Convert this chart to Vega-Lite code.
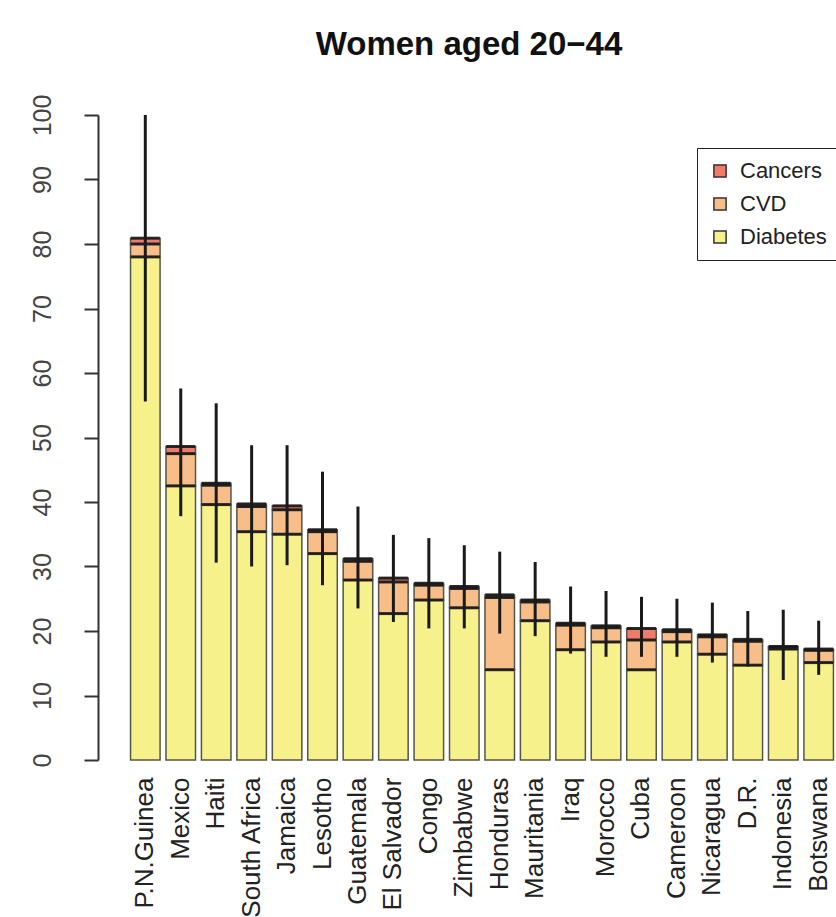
{
  "$schema": "https://vega.github.io/schema/vega-lite/v6.json",
  "autosize": {"type": "none"},
  "padding": {"left": 127, "top": 115, "right": 0, "bottom": 157},
  "width": 710,
  "height": 645,
  "background": "white",
  "config": {"view": {"stroke": null}, "font": "Liberation Sans"},
  "title": {"text": "Women aged 20−44", "fontSize": 33, "fontWeight": "bold", "font": "Liberation Sans", "color": "#111111", "offset": 32, "anchor": "middle", "dx": -13},
  "datasets": {
    "seg": [
      {"country": "P.N.Guinea", "cause": "Diabetes", "rank": 1, "value": 78.0},
      {"country": "P.N.Guinea", "cause": "CVD", "rank": 2, "value": 2.0},
      {"country": "P.N.Guinea", "cause": "Cancers", "rank": 3, "value": 0.9},
      {"country": "Mexico", "cause": "Diabetes", "rank": 1, "value": 42.5},
      {"country": "Mexico", "cause": "CVD", "rank": 2, "value": 5.0},
      {"country": "Mexico", "cause": "Cancers", "rank": 3, "value": 1.1},
      {"country": "Haiti", "cause": "Diabetes", "rank": 1, "value": 39.6},
      {"country": "Haiti", "cause": "CVD", "rank": 2, "value": 3.0},
      {"country": "Haiti", "cause": "Cancers", "rank": 3, "value": 0.3},
      {"country": "South Africa", "cause": "Diabetes", "rank": 1, "value": 35.4},
      {"country": "South Africa", "cause": "CVD", "rank": 2, "value": 3.9},
      {"country": "South Africa", "cause": "Cancers", "rank": 3, "value": 0.4},
      {"country": "Jamaica", "cause": "Diabetes", "rank": 1, "value": 35.0},
      {"country": "Jamaica", "cause": "CVD", "rank": 2, "value": 3.8},
      {"country": "Jamaica", "cause": "Cancers", "rank": 3, "value": 0.6},
      {"country": "Lesotho", "cause": "Diabetes", "rank": 1, "value": 32.0},
      {"country": "Lesotho", "cause": "CVD", "rank": 2, "value": 3.4},
      {"country": "Lesotho", "cause": "Cancers", "rank": 3, "value": 0.3},
      {"country": "Guatemala", "cause": "Diabetes", "rank": 1, "value": 27.9},
      {"country": "Guatemala", "cause": "CVD", "rank": 2, "value": 2.9},
      {"country": "Guatemala", "cause": "Cancers", "rank": 3, "value": 0.4},
      {"country": "El Salvador", "cause": "Diabetes", "rank": 1, "value": 22.7},
      {"country": "El Salvador", "cause": "CVD", "rank": 2, "value": 4.9},
      {"country": "El Salvador", "cause": "Cancers", "rank": 3, "value": 0.6},
      {"country": "Congo", "cause": "Diabetes", "rank": 1, "value": 24.8},
      {"country": "Congo", "cause": "CVD", "rank": 2, "value": 2.3},
      {"country": "Congo", "cause": "Cancers", "rank": 3, "value": 0.3},
      {"country": "Zimbabwe", "cause": "Diabetes", "rank": 1, "value": 23.6},
      {"country": "Zimbabwe", "cause": "CVD", "rank": 2, "value": 3.0},
      {"country": "Zimbabwe", "cause": "Cancers", "rank": 3, "value": 0.3},
      {"country": "Honduras", "cause": "Diabetes", "rank": 1, "value": 14.0},
      {"country": "Honduras", "cause": "CVD", "rank": 2, "value": 11.2},
      {"country": "Honduras", "cause": "Cancers", "rank": 3, "value": 0.4},
      {"country": "Mauritania", "cause": "Diabetes", "rank": 1, "value": 21.6},
      {"country": "Mauritania", "cause": "CVD", "rank": 2, "value": 2.9},
      {"country": "Mauritania", "cause": "Cancers", "rank": 3, "value": 0.3},
      {"country": "Iraq", "cause": "Diabetes", "rank": 1, "value": 17.1},
      {"country": "Iraq", "cause": "CVD", "rank": 2, "value": 3.8},
      {"country": "Iraq", "cause": "Cancers", "rank": 3, "value": 0.3},
      {"country": "Morocco", "cause": "Diabetes", "rank": 1, "value": 18.3},
      {"country": "Morocco", "cause": "CVD", "rank": 2, "value": 2.2},
      {"country": "Morocco", "cause": "Cancers", "rank": 3, "value": 0.3},
      {"country": "Cuba", "cause": "Diabetes", "rank": 1, "value": 14.0},
      {"country": "Cuba", "cause": "CVD", "rank": 2, "value": 4.6},
      {"country": "Cuba", "cause": "Cancers", "rank": 3, "value": 1.8},
      {"country": "Cameroon", "cause": "Diabetes", "rank": 1, "value": 18.3},
      {"country": "Cameroon", "cause": "CVD", "rank": 2, "value": 1.6},
      {"country": "Cameroon", "cause": "Cancers", "rank": 3, "value": 0.3},
      {"country": "Nicaragua", "cause": "Diabetes", "rank": 1, "value": 16.4},
      {"country": "Nicaragua", "cause": "CVD", "rank": 2, "value": 2.7},
      {"country": "Nicaragua", "cause": "Cancers", "rank": 3, "value": 0.3},
      {"country": "D.R.", "cause": "Diabetes", "rank": 1, "value": 14.7},
      {"country": "D.R.", "cause": "CVD", "rank": 2, "value": 3.7},
      {"country": "D.R.", "cause": "Cancers", "rank": 3, "value": 0.3},
      {"country": "Indonesia", "cause": "Diabetes", "rank": 1, "value": 17.2},
      {"country": "Indonesia", "cause": "CVD", "rank": 2, "value": 0.3},
      {"country": "Indonesia", "cause": "Cancers", "rank": 3, "value": 0.1},
      {"country": "Botswana", "cause": "Diabetes", "rank": 1, "value": 15.1},
      {"country": "Botswana", "cause": "CVD", "rank": 2, "value": 1.9},
      {"country": "Botswana", "cause": "Cancers", "rank": 3, "value": 0.2}
    ],
    "err": [
      {"country": "P.N.Guinea", "lo": 55.6, "hi": 100},
      {"country": "Mexico", "lo": 37.8, "hi": 57.6},
      {"country": "Haiti", "lo": 30.6, "hi": 55.3},
      {"country": "South Africa", "lo": 30.0, "hi": 48.8},
      {"country": "Jamaica", "lo": 30.2, "hi": 48.8},
      {"country": "Lesotho", "lo": 27.1, "hi": 44.7},
      {"country": "Guatemala", "lo": 23.5, "hi": 39.3},
      {"country": "El Salvador", "lo": 21.4, "hi": 34.9},
      {"country": "Congo", "lo": 20.4, "hi": 34.4},
      {"country": "Zimbabwe", "lo": 20.4, "hi": 33.3},
      {"country": "Honduras", "lo": 19.6, "hi": 32.3},
      {"country": "Mauritania", "lo": 19.2, "hi": 30.7},
      {"country": "Iraq", "lo": 16.5, "hi": 26.9},
      {"country": "Morocco", "lo": 16.0, "hi": 26.2},
      {"country": "Cuba", "lo": 16.0, "hi": 25.3},
      {"country": "Cameroon", "lo": 16.0, "hi": 25.0},
      {"country": "Nicaragua", "lo": 15.1, "hi": 24.4},
      {"country": "D.R.", "lo": 14.5, "hi": 23.1},
      {"country": "Indonesia", "lo": 12.4, "hi": 23.3},
      {"country": "Botswana", "lo": 13.2, "hi": 21.6}
    ]
  },
  "encoding": {
    "x": {
      "field": "country",
      "type": "nominal",
      "scale": {
        "domain": ["P.N.Guinea", "Mexico", "Haiti", "South Africa", "Jamaica", "Lesotho", "Guatemala", "El Salvador", "Congo", "Zimbabwe", "Honduras", "Mauritania", "Iraq", "Morocco", "Cuba", "Cameroon", "Nicaragua", "D.R.", "Indonesia", "Botswana"],
        "paddingInner": 0.1667,
        "paddingOuter": 0.1
      },
      "axis": {
        "title": null,
        "domain": false,
        "ticks": false,
        "labelAngle": -90,
        "labelAlign": "right",
        "labelBaseline": "middle",
        "labelFontSize": 26,
        "labelFont": "Liberation Sans",
        "labelColor": "#222222",
        "labelPadding": 17,
        "labelLimit": 300
      }
    }
  },
  "layer": [
    {
      "data": {"name": "seg"},
      "mark": {"type": "bar", "stroke": "#555548", "strokeWidth": 1.5},
      "encoding": {
        "y": {
          "field": "value",
          "type": "quantitative",
          "stack": "zero",
          "scale": {"domain": [0, 100], "nice": false},
          "axis": {
            "title": null,
            "grid": false,
            "values": [0, 10, 20, 30, 40, 50, 60, 70, 80, 90, 100],
            "offset": 29,
            "tickSize": 14,
            "tickWidth": 2,
            "tickColor": "#333333",
            "domainColor": "#333333",
            "domainWidth": 2,
            "labelAngle": -90,
            "labelAlign": "center",
            "labelBaseline": "bottom",
            "labelFontSize": 25,
            "labelFont": "Liberation Sans",
            "labelColor": "#444444",
            "labelPadding": 29
          }
        },
        "color": {
          "field": "cause",
          "type": "nominal",
          "scale": {"domain": ["Cancers", "CVD", "Diabetes"], "range": ["#EF7B68", "#F8BE8A", "#F7F18C"]},
          "legend": {
            "title": null,
            "orient": "none",
            "legendX": 570,
            "legendY": 33,
            "strokeColor": "#222222",
            "fillColor": "white",
            "padding": 12,
            "symbolType": "square",
            "symbolSize": 150,
            "symbolStrokeColor": "#333333",
            "symbolStrokeWidth": 1.5,
            "labelFontSize": 22,
            "labelFont": "Liberation Sans",
            "labelColor": "#222222",
            "labelOffset": 9,
            "rowPadding": 11
          }
        },
        "order": {"field": "rank", "type": "quantitative"}
      }
    },
    {
      "data": {"name": "seg"},
      "mark": {"type": "tick", "thickness": 3, "size": 29, "color": "#1a1a1a", "opacity": 0.9},
      "encoding": {
        "y": {"field": "value", "type": "quantitative", "stack": "zero"},
        "detail": {"field": "cause"},
        "order": {"field": "rank", "type": "quantitative"}
      }
    },
    {
      "data": {"name": "err"},
      "mark": {"type": "rule", "strokeWidth": 3, "color": "#1a1a1a"},
      "encoding": {
        "y": {"field": "lo", "type": "quantitative"},
        "y2": {"field": "hi"}
      }
    }
  ]
}
